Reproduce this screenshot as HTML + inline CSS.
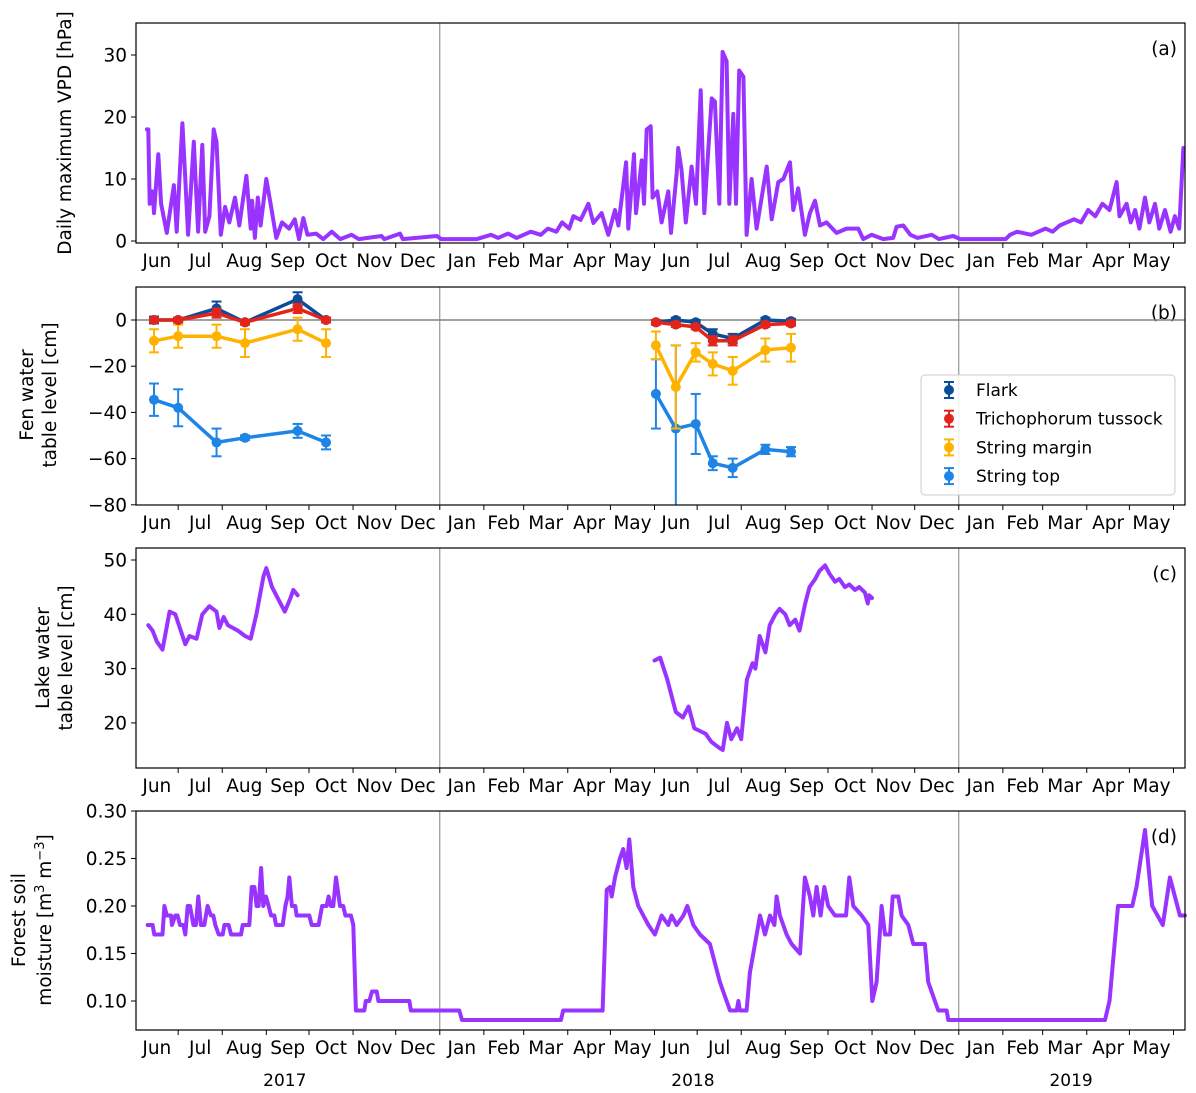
<!DOCTYPE html>
<html><head><meta charset="utf-8"><style>
body{margin:0;background:#fff;width:1196px;height:1093px;overflow:hidden}
svg{display:block}
text{font-family:"DejaVu Sans","Liberation Sans",sans-serif;fill:#000}
</style></head><body>
<svg id="chart" width="1196" height="1093" viewBox="0 0 1196 1093" xmlns="http://www.w3.org/2000/svg"></svg>
<script>
const monthNames=["Jun","Jul","Aug","Sep","Oct","Nov","Dec","Jan","Feb","Mar","Apr","May","Jun","Jul","Aug","Sep","Oct","Nov","Dec","Jan","Feb","Mar","Apr","May"];
const monthStarts=[0,30,61,92,122,153,183,214,245,273,304,334,365,395,426,457,487,518,548,579,610,638,669,699,730];
const yearLabels=["2017","2018","2019"];
const yearCenters=[105,392,658];
const yearBreaks=[214,579];
// VPD [day since 2017-06-01, hPa]
const vpdDays=[8,9,10,12,13,16,18,22,27,29,33,35,37,41,44,47,49,52,55,57,60,63,66,70,73,78,81,82,84,86,88,92,95,99,103,108,112,115,118,121,127,132,138,144,152,157,173,175,186,188,212,215,240,250,255,262,268,278,285,290,296,300,305,308,313,318.5,322,327.8,332.5,337.2,339.6,345,346.6,350.6,352,356,357.6,359.5,362.3,363.7,367,370,374.7,376.6,380.6,381.7,384,387,391.1,394.2,397.5,400,402.8,405.2,407.5,410.6,412.9,415.7,417.6,420.4,422.3,424.6,427.5,429.8,433.3,436.8,443.9,447.4,452.1,455.6,460.3,462.6,466.1,470.8,474.3,477.9,481.4,486,493,500.1,508.3,511.8,517.7,525.9,532.9,535.3,540,545,550,560,565,575,580,600,612,615,620,630,640,645,650,655,660,665,670,675,680,685,690,692,697,700,703,706,710,713,717,720,724,728,731,734,737];
const vpdValues=[18,18,6,8,4.5,14,6,1.3,9,1.5,19,10,1,16,1.5,15.5,1.5,4,18,16,1,5.5,3,7,2.5,10.5,2,6.5,0.5,7,2.5,10,6,0.5,3,2,3.5,0.3,3.7,1,1.2,0.3,1.5,0.3,1,0.3,0.8,0.3,1.2,0.3,0.8,0.3,0.3,1,0.5,1.2,0.5,1.5,1,2,1.5,3,2,4,3.4,6,2.9,4.5,1,5,2.5,12.7,2,14,4.5,13,6,18,18.5,7,8,3,8,1.3,11,15,11.5,3,12,6,24.3,4.5,14.5,23,22.5,6,30.5,29,6,20.5,6,27.5,26.5,1,10,2,12,3.5,9.5,10,12.7,5,8.5,1,4.5,6.5,2.5,3,1.3,2,2,0.3,1,0.3,0.5,2.3,2.5,1,0.5,1,0.3,0.8,0.3,0.3,0.3,1,1.5,1,2,1.5,2.5,3,3.5,3,5,4,6,5,9.5,4,6,3,5,2,7,3,6,2,5,1.5,4,2,15];
// Fen water table
const fenDays2017=[13,30,57,77,114,134];
const fenDays2018=[366,380,394,406,420,443,461];
const flark2017=[0,0,5,-1,9,0], flarkErr2017=[1.5,1,3,1,3,1];
const flark2018=[-1,0,-1,-6,-8,0,-0.5], flarkErr2018=[1,1,1,2,2,1,1];
const trich2017=[0,0,3,-1,5,0], trichErr2017=[1,1,2,1,2,1];
const trich2018=[-1,-2,-3,-9,-9,-2,-1.5], trichErr2018=[1,1,1,2,2,1,1];
const margin2017=[-9,-7,-7,-10,-4,-10], marginErr2017=[5,5,5,6,5,6];
const margin2018=[-11,-29,-14,-19,-22,-13,-12], marginErr2018=[6,18,4,5,6,5,6];
const top2017=[-34.5,-38,-53,-51,-48,-53], topErr2017=[7,8,6,1,3,3];
const top2018=[-32,-47,-45,-62,-64,-56,-57], topErr2018=[15,36,13,3,4,2,2];
// Lake
const lakeDays2017=[9,12,15,19,24,28,35,38,43,47,52,57,59,62,65,72,77,81,85,90,92,96,102,105,109,111,114];
const lake2017=[38,37,35,33.5,40.5,40,34.5,36,35.5,40,41.5,40.5,37.5,39.5,38,37,36,35.5,40,47,48.5,45,42,40.5,43,44.5,43.5];
const lakeDays2018=[365,369,374,380,385,389,393,397,401,405,410,413,416,419,423,426,430,434,436,439,443,446,450,453,457,460,464,467,471,474,478,481,485,488,492,495,499,502,506,509,513,515,516,518];
const lake2018=[31.5,32,28,22,21,23,19,18.5,18,16.5,15.5,15,20,17,19,17,28,31,30,36,33,38,40,41,40,38,39,37,42,45,46.5,48,49,47.5,46,46.5,45,45.5,44.5,45,44,42,43.5,43];
// Soil moisture
const soilDaysA=[8.6,12,13.2,19,20.3,22,25,25.7,28,29.6,31.3,33.6,35,36.7,38.3,40.7,42.5,44.2,46,48.4,50.7,53,54.7,56.1,58.5,61.3,62.5,65.5,67.2,74.2,75.4,80,81.7,83.6,85.2,86.6,88.3,89.9,91.8,93.6,95.3,97.6,98.8,103.5,105.4,107,108.2,110,112.4,113.3,122.2,123.9,128.8,131.2,134.4,135.8,137.5,139.1,141,143.8,146.1,147.6,151.5,153.2,155,160.9,162,164.4,166.3,169.6,170.8,192.6,193.7,227.7,229.6,299.2,300.8,328.5];
const soilValuesA=[0.18,0.18,0.17,0.17,0.2,0.19,0.19,0.18,0.19,0.19,0.18,0.18,0.17,0.2,0.2,0.18,0.18,0.21,0.18,0.18,0.2,0.19,0.19,0.18,0.17,0.17,0.18,0.18,0.17,0.17,0.18,0.18,0.22,0.22,0.2,0.2,0.24,0.2,0.21,0.2,0.19,0.19,0.18,0.18,0.2,0.21,0.23,0.2,0.2,0.19,0.19,0.18,0.18,0.2,0.2,0.21,0.2,0.2,0.23,0.2,0.2,0.19,0.19,0.18,0.09,0.09,0.10,0.10,0.11,0.11,0.10,0.10,0.09,0.09,0.08,0.08,0.09,0.09];
const soilDaysB=[331.4,333.7,334.9,337.2,340.7,343,345.4,347.3,350.1,353.6,357.1,360.7,365.3,370,374.7,377,380.6,385.3,388.1,392.3,397,404,407.5,411,415.7,418.1,422.8,424,425.1,429.8,432.1,435.7,439.2,442.7,446.2,449.3,450.9,453.2,457.9,461.4,467.3,470.8,474.3,476.7,479,481.8,484.4,487.2,491.9,499.7,502,504.8,510.7,515.4,518.2,521.2,524.7,527.1,530.6,532.5,536.5,538.8,543.5,547,555.2,557.5,562.2,564.6,570.4,571.6,681.8,685,691,701,704,710,715,722.5,727.5,734.5,738];
const soilValuesB=[0.217,0.22,0.21,0.23,0.25,0.26,0.24,0.27,0.22,0.2,0.19,0.18,0.17,0.19,0.18,0.19,0.18,0.19,0.2,0.18,0.17,0.16,0.14,0.12,0.10,0.09,0.09,0.10,0.09,0.09,0.13,0.16,0.19,0.17,0.19,0.18,0.21,0.19,0.17,0.16,0.15,0.23,0.21,0.19,0.22,0.19,0.22,0.2,0.19,0.19,0.23,0.2,0.19,0.18,0.10,0.12,0.2,0.17,0.17,0.21,0.21,0.19,0.18,0.16,0.16,0.12,0.10,0.09,0.09,0.08,0.08,0.1,0.2,0.2,0.22,0.28,0.2,0.18,0.23,0.19,0.19];
const soilDays=soilDaysA.concat(soilDaysB);
const soilValues=soilValuesA.concat(soilValuesB);

const svg=document.getElementById('chart');
const NS='http://www.w3.org/2000/svg';
const L=136,R=1185;
function xS(d){return 135.5+d*1.4219;}
function mk(tag,attrs,parent){const e=document.createElementNS(NS,tag);for(const k in attrs)e.setAttribute(k,attrs[k]);(parent||svg).appendChild(e);return e;}
function txt(s,x,y,attrs,parent){const t=mk('text',Object.assign({x:x,y:y},attrs||{}),parent);t.textContent=s;return t;}
const PURPLE='#9933ff';

function panel(name,top,bottom,yMap,ticks,tickFmt,label){
  const g=mk('g',{});
  
  
  yearBreaks.forEach(d=>{const l=mk('line',{x1:xS(d),x2:xS(d),y1:top,y2:bottom,stroke:'#808080','stroke-width':1},g);});
  const ax=mk('g',{},g);
  
  
  monthStarts.forEach(d=>{const x=xS(d);if(x>L&&x<R)mk('line',{x1:x,x2:x,y1:bottom,y2:bottom+5,stroke:'#000','stroke-width':1},ax);});
  monthNames.forEach((m,i)=>{const mid=(monthStarts[i]+monthStarts[i+1])/2;const t=txt(m,xS(mid),bottom+24,{'font-size':18.5,'text-anchor':'middle'},ax);});
  const ay=mk('g',{},g);
  
  
  ticks.forEach(v=>{const y=yMap(v);mk('line',{x1:L-5,x2:L,y1:y,y2:y,stroke:'#000','stroke-width':1},ay);const t=txt(tickFmt(v),L-9,y+6.5,{'font-size':18.5,'text-anchor':'end'},ay);});
  const pl=txt(label,1177,top+32,{'font-size':18.5,'text-anchor':'end'},g);
  
  
  return g;
}
function frame(g,top,bottom){const r=mk('rect',{x:L,y:top,width:R-L,height:bottom-top,fill:'none',stroke:'#000','stroke-width':1.2},g);}
function line(g,days,vals,yMap,color,w,name){
  const p=mk('path',{d:days.map((d,i)=>(i?'L':'M')+xS(d).toFixed(1)+','+yMap(vals[i]).toFixed(1)).join(''),fill:'none',stroke:color,'stroke-width':w,'stroke-linejoin':'round','stroke-linecap':'round'},g);
  
  
}
function ylab(lines,xs,cy){
  lines.forEach((s,i)=>{const t=mk('text',{x:0,y:0,'font-size':18.5,'text-anchor':'middle',transform:`translate(${xs[i]},${cy}) rotate(-90)`});if(typeof s==='string')t.textContent=s;else s(t);});
}

// Panel a
const ya=v=>241-v*6.2;
const ga=panel('vpd-panel',23,243,ya,[0,10,20,30],v=>String(v),'(a)');
line(ga,vpdDays,vpdValues,ya,PURPLE,4,'vpd-line');
frame(ga,23,243);
ylab(['Daily maximum VPD [hPa]'],[71],133);

// Panel b
const yb=v=>320-v*2.31;
const gb=panel('fen-panel',287,505,yb,[0,-20,-40,-60,-80],v=>v<0?'\u2212'+(-v):String(v),'(b)');
mk('line',{x1:L,x2:R,y1:yb(0),y2:yb(0),stroke:'#808080','stroke-width':1.5},gb);
function series(days,vals,errs,color,name){
  const g=mk('g',{},gb);
  
  
  line(g,days,vals,yb,color,3.5,name+'-line');
  days.forEach((d,i)=>{const x=xS(d);const y1=Math.min(yb(vals[i]-errs[i]),505),y2=yb(vals[i]+errs[i]);
    mk('line',{x1:x,x2:x,y1:y1,y2:y2,stroke:color,'stroke-width':2},g);
    if(yb(vals[i]-errs[i])<=505)mk('line',{x1:x-5,x2:x+5,y1:y1,y2:y1,stroke:color,'stroke-width':2},g);
    mk('line',{x1:x-5,x2:x+5,y1:y2,y2:y2,stroke:color,'stroke-width':2},g);
    const c=mk('circle',{cx:x,cy:yb(vals[i]),r:5,fill:color},g);
    
    
  });
}
const cTop='#1e84e6',cMar='#ffb300',cRed='#e3241b',cFl='#0a4d99';
series(fenDays2017,top2017,topErr2017,cTop,'string-top-2017');
series(fenDays2018,top2018,topErr2018,cTop,'string-top-2018');
series(fenDays2017,margin2017,marginErr2017,cMar,'string-margin-2017');
series(fenDays2018,margin2018,marginErr2018,cMar,'string-margin-2018');
series(fenDays2017,flark2017,flarkErr2017,cFl,'flark-2017');
series(fenDays2018,flark2018,flarkErr2018,cFl,'flark-2018');
series(fenDays2017,trich2017,trichErr2017,cRed,'trichophorum-2017');
series(fenDays2018,trich2018,trichErr2018,cRed,'trichophorum-2018');
frame(gb,287,505);
const lg=mk('g',{},gb);


mk('rect',{x:921,y:375,width:254,height:120,rx:4,fill:'#fff','fill-opacity':0.85,stroke:'#ccc','stroke-width':1},lg);
[['Flark',cFl],['Trichophorum tussock',cRed],['String margin',cMar],['String top',cTop]].forEach((e,i)=>{
  const y=390+i*28.7;const en=mk('g',{},lg);
  
  
  mk('line',{x1:949,x2:949,y1:y-8,y2:y+8,stroke:e[1],'stroke-width':2},en);
  mk('line',{x1:944,x2:954,y1:y-8,y2:y-8,stroke:e[1],'stroke-width':2},en);
  mk('line',{x1:944,x2:954,y1:y+8,y2:y+8,stroke:e[1],'stroke-width':2},en);
  mk('circle',{cx:949,cy:y,r:5,fill:e[1]},en);
  txt(e[0],976,y+6,{'font-size':17,'font-family':'Liberation Sans, sans-serif'},en);
});
ylab(['Fen water','table level [cm]'],[33,56],395);

// Panel c
const yc=v=>560+(50-v)*5.43;
const gc=panel('lake-panel',548,768,yc,[20,30,40,50],v=>String(v),'(c)');
line(gc,lakeDays2017,lake2017,yc,PURPLE,4,'lake-line-2017');
line(gc,lakeDays2018,lake2018,yc,PURPLE,4,'lake-line-2018');
frame(gc,548,768);
ylab(['Lake water','table level [cm]'],[49,72],658);

// Panel d
const yd=v=>811+(0.30-v)*950;
const gd=panel('soil-panel',811,1030,yd,[0.10,0.15,0.20,0.25,0.30],v=>v.toFixed(2),'(d)');
line(gd,soilDays,soilValues,yd,PURPLE,4,'soil-moisture-line');
frame(gd,811,1030);
ylab(['Forest soil',function(t){t.innerHTML='moisture [m<tspan dy="-7" font-size="13">3</tspan><tspan dy="7"> m</tspan><tspan dy="-7" font-size="13">\u22123</tspan><tspan dy="7">]</tspan>';}],[25,51],920);

yearLabels.forEach((y,i)=>{const t=txt(y,xS(yearCenters[i]),1086,{'font-size':17,'text-anchor':'middle','font-family':'Liberation Sans, sans-serif'});});
</script>
</body></html>
